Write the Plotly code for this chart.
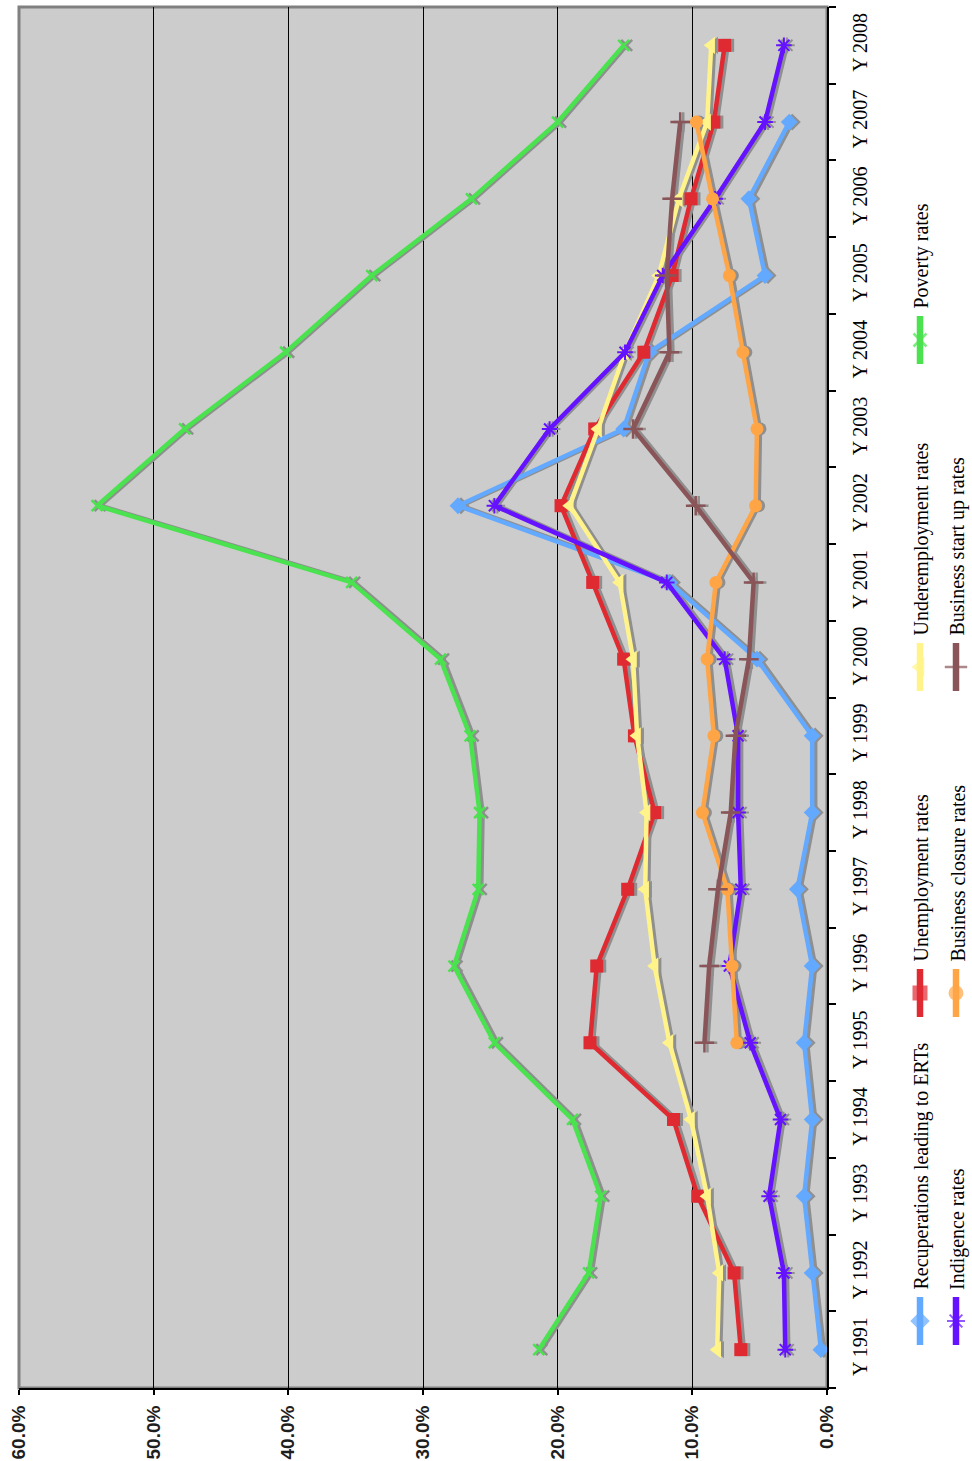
import plotly.graph_objects as go

# ---- data -----------------------------------------------------------------
years = list(range(1991, 2009))
year_labels = [f"Y {y}" for y in years]

recuperations = [0.45, 1.1, 1.7, 1.1, 1.7, 1.1, 2.2, 1.1, 1.1, 5.2, 11.7, 27.4,
                 15.1, 13.2, 4.6, 5.8, 2.8, None]
unemployment = [6.4, 6.9, 9.6, 11.4, 17.6, 17.1, 14.8, 12.8, 14.3, 15.1, 17.4,
                19.75, 17.25, 13.6, 11.5, 10.1, 8.4, 7.6]
underemployment = [8.15, 8.0, 8.9, 10.1, 11.7, 12.8, 13.5, 13.4, 14.1, 14.4,
                   15.4, 19.1, 17.0, 15.0, 12.5, 11.0, 8.9, 8.6]
poverty = [21.4, 17.7, 16.8, 18.9, 24.7, 27.7, 25.9, 25.8, 26.5, 28.7, 35.3,
           54.2, 47.7, 40.2, 33.8, 26.4, 20.0, 15.1]
indigence = [3.1, 3.2, 4.3, 3.45, 5.7, 7.25, 6.4, 6.6, 6.6, 7.6, 11.9, 24.7,
             20.6, 15.0, 12.2, 8.3, 4.6, 3.2]
closures = [None, None, None, None, 6.7, 7.05, 7.4, 9.25, 8.4, 8.9, 8.25, 5.3,
            5.2, 6.25, 7.25, 8.5, 9.7, None]
startups = [None, None, None, None, 9.1, 8.75, 8.1, 7.15, 6.8, 5.8, 5.45, 9.75,
            14.4, 11.7, 11.9, 11.5, 10.9, None]

pct_ticks = [0, 10, 20, 30, 40, 50, 60]
pct_labels = [f"{v:.1f}%" for v in pct_ticks]

# ---- geometry -------------------------------------------------------------
W, H = 972, 1461
PL, PR, PT, PB = 19, 827, 7, 1388          # plot area in pixels
XDOM = [PL / W, PR / W]
YDOM = [1 - PB / H, 1 - PT / H]
X_RANGE = [60, 0]
Y_RANGE = [1990.5, 2008.5]
SHADOW_PX = 3
sx = SHADOW_PX * (X_RANGE[0] - X_RANGE[1]) / (PR - PL)
SHADOW = "#8f8f8f"

series = [
    # name, values, colour, symbol, size, marker line width, legend col, legend y
    ("Recuperations leading to ERTs", recuperations, "#63a9ff", "diamond", 13, 0, 920, 1321),
    ("Unemployment rates", unemployment, "#e02a32", "square", 13, 0, 920, 993),
    ("Underemployment rates", underemployment, "#fff389", "triangle-left", 15, 0, 920, 667),
    ("Poverty rates", poverty, "#4be24f", "x-thin-open", 11, 2.5, 920, 340),
    ("Indigence rates", indigence, "#6412ff", "asterisk-open", 13, 2, 956, 1321),
    ("Business closure rates", closures, "#ffa546", "circle", 13, 0, 956, 993),
    ("Business start up rates", startups, "#8a5558", "cross-thin-open", 14, 2.5, 956, 667),
]

fig = go.Figure()

# empty trace so the main (tick/grid) subplot is always drawn
fig.add_trace(go.Scatter(x=[], y=[], xaxis="x", yaxis="y", showlegend=False))

# drop shadows (same data on a slightly shifted axis)
for name, vals, col, sym, size, mlw, lx, ly in series:
    fig.add_trace(go.Scatter(
        x=vals, y=years, xaxis="x2", yaxis="y2", mode="lines+markers",
        line=dict(color=SHADOW, width=4.5),
        marker=dict(symbol=sym, size=size, color=SHADOW,
                    line=dict(color=SHADOW, width=mlw)),
        showlegend=False, hoverinfo="skip"))

# the series themselves
for name, vals, col, sym, size, mlw, lx, ly in series:
    fig.add_trace(go.Scatter(
        x=vals, y=years, xaxis="x3", yaxis="y3", mode="lines+markers", name=name,
        line=dict(color=col, width=4.5),
        marker=dict(symbol=sym, size=size, color=col, line=dict(color=col, width=mlw)),
        showlegend=False))

# rotated legend: glyphs and labels on a pixel-coordinate axis
annotations = []
for name, vals, col, sym, size, mlw, lx, ly in series:
    fig.add_trace(go.Scatter(
        x=[lx, lx, lx], y=[ly - 24, ly, ly + 24], xaxis="x4", yaxis="y4",
        mode="lines+markers", line=dict(color=col, width=6.5),
        marker=dict(symbol=sym, size=[0, size + 2, 0], color=col,
                    line=dict(color=col, width=mlw)),
        showlegend=False, hoverinfo="skip"))
    annotations.append(dict(
        x=lx + 1, y=ly - 29, xref="x4", yref="y4", text=name, textangle=-90,
        showarrow=False, xanchor="center", yanchor="bottom",
        font=dict(family="Liberation Serif", size=20, color="#000000")))

fig.add_shape(type="rect", xref="paper", yref="paper",
              x0=XDOM[0], x1=XDOM[1], y0=YDOM[0], y1=YDOM[1],
              fillcolor="#cccccc", line=dict(color="#808080", width=3), layer="below")

hidden = dict(visible=False, showgrid=False, zeroline=False)
fig.update_layout(
    width=W, height=H,
    margin=dict(l=0, r=0, t=0, b=0, pad=0, autoexpand=False),
    paper_bgcolor="white", plot_bgcolor="rgba(0,0,0,0)",
    showlegend=False,
    annotations=annotations,
    xaxis=dict(domain=XDOM, range=X_RANGE, anchor="y",
               tickmode="array", tickvals=pct_ticks, ticktext=pct_labels,
               tickangle=-90, ticks="outside", ticklen=5, tickwidth=2, tickcolor="black",
               ticklabelstandoff=3,
               showgrid=True, gridcolor="black", gridwidth=1, zeroline=False,
               showline=True, linecolor="black", linewidth=2,
               tickfont=dict(family="Liberation Sans", size=19, color="#1e1e1e", weight="bold")),
    yaxis=dict(domain=YDOM, range=Y_RANGE, anchor="x", side="right",
               tickmode="array", tickvals=years, ticktext=year_labels,
               tickangle=-90, ticks="", ticklabelstandoff=14,
               minor=dict(tickmode="array", tickvals=[y - 0.5 for y in years] + [years[-1] + 0.5],
                          ticks="outside", ticklen=7, tickwidth=2, tickcolor="black",
                          showgrid=False),
               showgrid=False, zeroline=False,
               showline=True, linecolor="black", linewidth=2,
               tickfont=dict(family="Liberation Serif", size=20, color="#000000")),
    xaxis2=dict(domain=XDOM, range=[X_RANGE[0] + sx, X_RANGE[1] + sx], anchor="y2", **hidden),
    yaxis2=dict(domain=YDOM, range=Y_RANGE, anchor="x2", **hidden),
    xaxis3=dict(domain=XDOM, range=X_RANGE, anchor="y3", **hidden),
    yaxis3=dict(domain=YDOM, range=Y_RANGE, anchor="x3", **hidden),
    xaxis4=dict(domain=[0, 1], range=[0, W], anchor="y4", **hidden),
    yaxis4=dict(domain=[0, 1], range=[H, 0], anchor="x4", **hidden),
)

fig.write_html("out.html")
